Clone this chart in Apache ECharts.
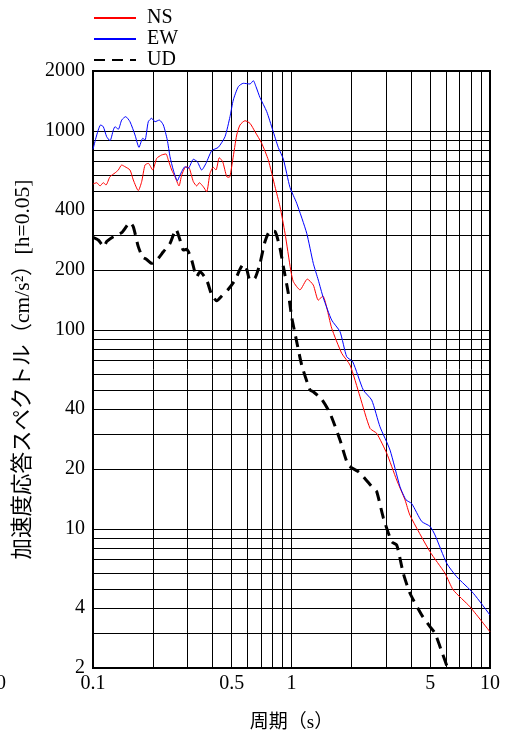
<!DOCTYPE html>
<html>
<head>
<meta charset="utf-8">
<script src="https://cdn.jsdelivr.net/npm/echarts@6/dist/echarts.min.js"></script>
<style>
  html, body { margin: 0; padding: 0; background: #fff; }
  #chart { width: 507px; height: 733px; }
</style>
</head>
<body>
<div id="chart"></div>
<script>
// Acceleration response spectra (h = 0.05), three components

// NS component
const nsPeriod = [0.1, 0.1044, 0.1085, 0.1127, 0.1163, 0.1218, 0.1291, 0.1341, 0.1395, 0.1449,
  0.1536, 0.1596, 0.1691, 0.1759, 0.1828, 0.1899, 0.1999, 0.2094, 0.2219, 0.2332,
  0.2395, 0.2492, 0.2589, 0.2712, 0.2798, 0.2941, 0.3056, 0.3202, 0.3331, 0.3433,
  0.3595, 0.3739, 0.3885, 0.4036, 0.4165, 0.4328, 0.4502, 0.4716, 0.486, 0.5056,
  0.5296, 0.5503, 0.583, 0.6178, 0.6548, 0.7078, 0.7642, 0.826, 0.8754, 0.9277,
  0.9908, 1.0212, 1.1036, 1.2012, 1.2876, 1.3646, 1.4362, 1.5941, 1.7904, 1.9712,
  2.2137, 2.486, 2.6866, 3.0169, 3.3884, 3.7309, 3.9537, 4.985, 5.933, 6.533,
  7.9287, 10];
const nsAccel = [541, 549, 529, 549, 535, 589, 615, 636, 674, 661,
  636, 567, 501, 556, 674, 687, 636, 728, 757, 766,
  714, 636, 589, 529, 600, 661, 649, 556, 529, 549,
  524, 495, 612, 656, 636, 733, 700, 589, 585, 714,
  954, 1071, 1125, 1092, 991, 866, 714, 524, 416, 306,
  200, 175, 159, 180, 168, 141, 148, 102, 76.3, 66.6,
  46.2, 32.0, 30.2, 24.0, 17.6, 14.0, 11.7, 7.68, 5.98, 4.93,
  4.06, 3.04];

// EW component
const ewPeriod = [0.1, 0.1093, 0.1127, 0.1172, 0.1218, 0.1266, 0.1291, 0.1341, 0.1395, 0.1461,
  0.1536, 0.1628, 0.1705, 0.178, 0.1828, 0.1899, 0.1975, 0.2053, 0.2158, 0.2261,
  0.2367, 0.2443, 0.2538, 0.2659, 0.2744, 0.2908, 0.3021, 0.3202, 0.3354, 0.3529,
  0.3709, 0.3963, 0.4278, 0.4624, 0.49, 0.5091, 0.5395, 0.5717, 0.6178, 0.642,
  0.6625, 0.694, 0.7502, 0.8042, 0.8583, 0.9096, 0.9827, 1.0622, 1.1929, 1.2876,
  1.3646, 1.4462, 1.5941, 1.7553, 1.8972, 2.0339, 2.2997, 2.5351, 2.7912, 3.1355,
  3.5204, 3.7741, 4.0319, 4.5279, 4.985, 5.2827, 6.0515, 6.7953, 8.2391, 10];
const ewAccel = [808, 1071, 1050, 935, 893, 1010, 1050, 1019, 1134, 1179,
  1112, 954, 827, 918, 900, 1112, 1157, 1112, 1134, 1071,
  900, 742, 636, 562, 600, 661, 649, 720, 700, 636,
  687, 795, 827, 935, 1179, 1430, 1668, 1735, 1721, 1788,
  1668, 1470, 1250, 1010, 825, 722, 520, 433, 306, 216,
  178, 145, 112, 98, 73.3, 69.2, 49.9, 44.4, 32.6, 24.9,
  16.3, 14.0, 13.4, 10.9, 10.3, 9.32, 6.72, 5.75, 4.75, 3.69];

// UD component
const udPeriod = [0.1, 0.1063, 0.1136, 0.1172, 0.1266, 0.1395, 0.1536, 0.1596, 0.1691, 0.178,
  0.1864, 0.1975, 0.2094, 0.2261, 0.2443, 0.2619, 0.2744, 0.2851, 0.2965, 0.3143,
  0.3331, 0.3459, 0.3739, 0.3963, 0.42, 0.445, 0.4804, 0.5193, 0.5503, 0.5717,
  0.5946, 0.6178, 0.6548, 0.694, 0.7355, 0.7794, 0.826, 0.8754, 0.9096, 0.9636,
  1.0023, 1.0414, 1.1257, 1.2394, 1.2876, 1.4195, 1.5631, 1.7553, 1.9327, 2.1703,
  2.2997, 2.5828, 2.6866, 2.9004, 3.1979, 3.3884, 3.6578, 3.9537, 4.5279, 4.985,
  5.2827, 5.7104, 6.0935, 6.2];
const udAccel = [292, 283, 262, 278, 294, 308, 346, 330, 262, 232,
  226, 216, 224, 247, 272, 320, 283, 252, 254, 224,
  185, 196, 178, 150, 140, 148, 160, 178, 202, 214,
  202, 178, 182, 216, 278, 314, 312, 257, 208, 153,
  116, 96, 66.6, 49.9, 48.9, 44.8, 38.1, 28.0, 20.9, 19.4,
  18.3, 16.0, 15.4, 11.4, 8.62, 8.30, 5.98, 4.75, 3.69, 3.23,
  2.99, 2.42, 2.02, 1.9];

// Axis grid and label values
const periodGrid = [0.1, 0.2, 0.3, 0.4, 0.5, 0.6, 0.7, 0.8, 0.9, 1, 2, 3, 4, 5, 6, 7, 8, 9, 10];
const periodLabels = [0.1, 0.5, 1, 5, 10];
const accelGrid = [2, 3, 4, 5, 6, 7, 8, 9, 10, 20, 30, 40, 50, 60, 70, 80, 90,
  100, 200, 300, 400, 500, 600, 700, 800, 900, 1000, 2000];
const accelLabels = [2, 4, 10, 20, 40, 100, 200, 400, 1000, 2000];

const pairs = (xs, ys) => xs.map((x, i) => [x, ys[i]]);

const SERIF = "'Liberation Serif', 'Noto Sans CJK JP', serif";
const MIXED = "'Liberation Serif', 'Noto Sans CJK JP', sans-serif";

const chart = echarts.init(document.getElementById('chart'), null, { renderer: 'canvas' });

chart.setOption({
  animation: false,
  backgroundColor: '#fff',
  grid: {
    left: 93, right: 17, top: 71, bottom: 65,
    show: true, borderColor: '#000', borderWidth: 2,
    containLabel: false, outerBoundsMode: 'none'
  },
  legend: {
    orient: 'vertical',
    left: 88, top: 3,
    itemWidth: 42, itemHeight: 14, itemGap: 1,
    itemStyle: { opacity: 0 },
    textStyle: { fontFamily: SERIF, fontSize: 20, color: '#000', padding: [0, 0, 0, 6] },
    data: ['NS', 'EW', 'UD']
  },
  xAxis: {
    type: 'log', logBase: 10, min: 0.1, max: 10,
    name: '周期（s）', nameLocation: 'middle', nameGap: 46,
    nameTextStyle: { fontFamily: MIXED, fontSize: 19, color: '#000' },
    axisLine: { show: true, lineStyle: { color: '#000', width: 2 } },
    axisTick: { show: false, customValues: periodGrid },
    axisLabel: {
      customValues: periodLabels, margin: 6,
      fontFamily: SERIF, fontSize: 20, color: '#000',
      formatter: v => String(v)
    },
    splitLine: { show: true, lineStyle: { color: '#000', width: 1 } },
    minorSplitLine: { show: false }
  },
  yAxis: {
    type: 'log', logBase: 10, min: 2, max: 2000,
    name: '加速度応答スペクトル（cm/s²）[h=0.05]', nameLocation: 'middle', nameGap: 51,
    nameRotate: 90,
    nameTextStyle: { fontFamily: MIXED, fontSize: 21.5, color: '#000' },
    axisLine: { show: true, lineStyle: { color: '#000', width: 2 } },
    axisTick: { show: false, customValues: accelGrid },
    axisLabel: {
      customValues: accelLabels, margin: 8,
      fontFamily: SERIF, fontSize: 20, color: '#000',
      formatter: v => String(v)
    },
    splitLine: { show: true, lineStyle: { color: '#000', width: 1 } }
  },
  graphic: [{
    type: 'text', left: -14, top: 674,
    style: { text: '10', font: "20px 'Liberation Serif'", fill: '#000' }
  }],
  series: [
    {
      name: 'NS', type: 'line', data: pairs(nsPeriod, nsAccel),
      symbol: 'none', smooth: 0.2, clip: true,
      lineStyle: { color: '#ff0000', width: 1 }, itemStyle: { color: '#ff0000', opacity: 0 }
    },
    {
      name: 'EW', type: 'line', data: pairs(ewPeriod, ewAccel),
      symbol: 'none', smooth: 0.2, clip: true,
      lineStyle: { color: '#0000ff', width: 1 }, itemStyle: { color: '#0000ff', opacity: 0 }
    },
    {
      name: 'UD', type: 'line', data: pairs(udPeriod, udAccel),
      symbol: 'none', smooth: 0.2, clip: true,
      lineStyle: { color: '#000', width: 3, type: [11, 7] }, itemStyle: { color: '#000', opacity: 0 }
    }
  ]
});
</script>
</body>
</html>
